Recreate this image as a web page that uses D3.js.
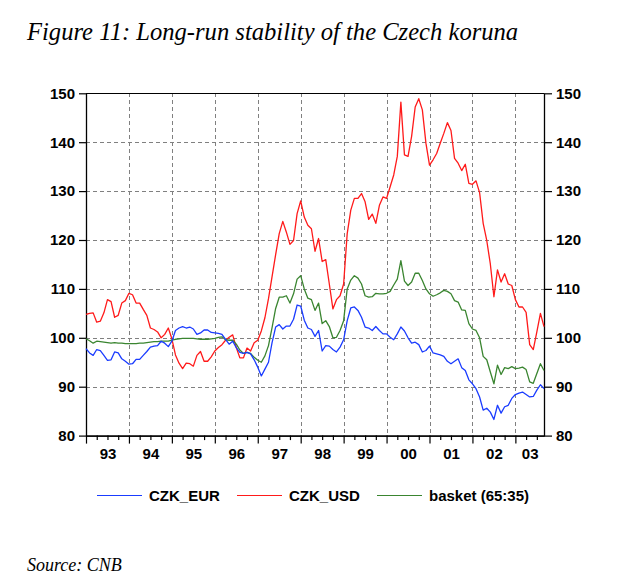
<!DOCTYPE html>
<html>
<head>
<meta charset="utf-8">
<script src="https://cdn.jsdelivr.net/npm/d3@7"></script>
<style>
  html, body { margin: 0; padding: 0; background: #fff; }
  svg { display: block; }
</style>
</head>
<body>
<svg id="chart" width="619" height="586"></svg>
<script>
// ---------- data (monthly, Jan 1993 .. Sep 2003) ----------
const startYear = 1993;
const yearLabels = ["93","94","95","96","97","98","99","00","01","02","03"];
const yTicks = [80, 90, 100, 110, 120, 130, 140, 150];

const czkEur = [
  97.8, 96.9, 96.4, 97.6, 97.4, 96.4, 95.4, 95.5, 97.1, 96.9, 95.7, 95.2,
  94.6, 94.7, 95.6, 95.6, 96.4, 97.2, 98.1, 98.3, 98.4, 99.3, 98.9, 98.2,
  99.3, 101.5, 102.0, 102.3, 102.0, 102.2, 101.8, 100.7, 101.0, 101.6, 101.6, 101.1,
  101.0, 100.9, 100.7, 99.7, 98.7, 99.3, 98.0, 97.0, 96.8, 97.0, 96.7, 95.5,
  94.0, 92.2, 93.6, 95.0, 99.0, 102.2, 102.7, 101.8, 102.4, 102.4, 103.8, 106.7,
  106.5, 103.6, 102.0, 101.7, 100.3, 101.5, 97.3, 98.4, 98.3, 97.6, 97.1, 98.1,
  99.6, 103.5, 106.1, 106.3, 105.6, 104.2, 102.2, 102.0, 101.5, 102.3, 101.5, 100.8,
  100.8, 100.1, 99.6, 100.8, 102.2, 101.4, 100.0, 98.9, 99.1, 98.6, 97.1, 97.4,
  98.3, 96.9, 96.7, 96.5, 96.2, 95.2, 94.7, 95.2, 95.7, 93.9, 93.3, 91.4,
  90.6, 89.6, 87.9, 85.2, 85.6, 84.8, 83.3, 86.2, 84.6, 85.9, 86.2, 87.6,
  88.4, 88.7, 88.9, 88.4, 87.9, 88.0, 89.3, 90.4, 89.6
];

const czkUsd = [
  104.8, 105.0, 105.1, 103.2, 103.4, 105.1, 107.8, 107.4, 104.2, 104.6, 107.1, 107.6,
  109.1, 108.8, 107.1, 107.1, 105.8, 104.6, 102.0, 101.7, 101.2, 100.0, 100.7, 102.0,
  99.8, 96.5, 94.8, 93.7, 94.8, 94.7, 94.2, 96.4, 97.2, 95.2, 95.2, 96.1,
  97.3, 98.0, 98.6, 99.5, 100.1, 100.6, 98.0, 95.9, 95.9, 97.9, 97.3, 99.0,
  99.5, 101.4, 104.1, 108.0, 112.5, 117.0, 121.3, 123.8, 121.6, 119.1, 119.9, 125.4,
  128.0, 124.7, 123.0, 122.3, 117.7, 120.3, 115.6, 116.0, 111.0, 105.9, 107.8, 108.6,
  111.0, 121.3, 126.1, 128.5, 128.5, 129.5, 127.8, 124.2, 125.3, 123.4, 127.1, 128.8,
  128.5, 130.9, 133.3, 137.1, 148.2, 137.4, 137.1, 141.2, 147.2, 148.9, 146.6, 139.8,
  135.3, 136.4, 137.7, 139.8, 141.8, 144.0, 142.4, 136.7, 135.7, 134.2, 135.5, 131.6,
  131.4, 132.1, 129.7, 123.4, 119.9, 115.1, 108.4, 113.9, 111.4, 113.1, 111.0, 110.7,
  107.8, 106.3, 106.3, 105.2, 98.6, 97.6, 101.2, 105.0, 102.3
];

const basket = [
  99.8, 99.4, 98.9, 99.3, 99.2, 99.1, 99.0, 98.9, 99.0, 98.9, 98.9, 98.8,
  98.8, 98.8, 98.8, 98.9, 98.9, 99.0, 99.1, 99.2, 99.2, 99.3, 99.3, 99.3,
  99.5, 99.7, 99.8, 99.9, 99.9, 99.9, 99.9, 99.8, 99.7, 99.7, 99.7, 99.8,
  99.9, 100.1, 100.2, 99.6, 99.5, 99.5, 98.7, 97.5, 96.8, 97.0, 96.8, 96.0,
  95.4, 95.0, 96.3, 98.4, 102.1, 106.0, 108.3, 108.3, 108.6, 107.1, 109.0, 112.0,
  112.7, 110.0, 108.1, 107.8, 105.6, 107.1, 102.9, 103.5, 102.3, 100.0, 100.1, 101.5,
  103.5, 110.0, 111.8, 112.7, 112.2, 111.0, 108.6, 108.3, 108.4, 109.1, 109.0, 109.0,
  109.1, 109.5, 110.8, 112.0, 115.8, 111.6, 110.7, 111.4, 113.2, 113.2, 111.7, 110.0,
  109.0, 108.5, 108.8, 109.2, 109.7, 109.5, 109.0, 107.6, 107.3, 105.7, 105.6, 102.9,
  101.8, 101.5, 100.0, 96.2, 95.5, 93.0, 90.6, 94.4, 92.5, 93.9, 93.7, 94.1,
  93.7, 93.8, 94.0, 93.5, 91.0, 90.7, 92.7, 94.7, 93.3
];

const seriesNames = ["CZK_EUR", "CZK_USD", "basket (65:35)"];
const seriesColors = ["#1a3cff", "#ff1a1a", "#3a8530"];
const seriesData = [czkEur, czkUsd, basket];

// ---------- layout ----------
const svg = d3.select("#chart");
const L = 86, R = 544, T = 93.3, B = 435.6;
const nObs = czkEur.length;

const x = d3.scaleLinear().domain([0, nObs - 1]).range([L, R]);
const y = d3.scaleLinear().domain([80, 150]).range([B, T]);

const sansFont = "Arial, 'Liberation Sans', Helvetica, sans-serif";
const serifFont = "'Times New Roman', 'Liberation Serif', 'DejaVu Serif', serif";

// Title
svg.append("text")
  .attr("x", 27).attr("y", 40)
  .attr("font-family", serifFont)
  .attr("font-style", "italic")
  .attr("font-size", 24.6)
  .attr("fill", "#000")
  .text("Figure 11: Long-run stability of the Czech koruna");

// Grid
const yearIdx = d3.range(12, nObs, 12);
const grid = svg.append("g").attr("stroke", "#808080").attr("stroke-width", 1)
  .attr("stroke-dasharray", "4,3").attr("shape-rendering", "crispEdges");
grid.selectAll("line.h").data(yTicks.filter(v => v > 80 && v < 150)).join("line")
  .attr("x1", L).attr("x2", R)
  .attr("y1", d => Math.round(y(d)) + 0.5).attr("y2", d => Math.round(y(d)) + 0.5);
grid.selectAll("line.v").data(yearIdx).join("line")
  .attr("y1", T).attr("y2", B)
  .attr("x1", d => Math.round(x(d)) + 0.5).attr("x2", d => Math.round(x(d)) + 0.5);

// Top border
svg.append("line").attr("x1", L).attr("x2", R)
  .attr("y1", Math.round(T) + 0.5).attr("y2", Math.round(T) + 0.5)
  .attr("stroke", "#000").attr("shape-rendering", "crispEdges");

// Axes
const yLeft = d3.axisLeft(y).tickValues(yTicks).tickSize(7).tickPadding(4).tickSizeOuter(0);
const yRight = d3.axisRight(y).tickValues(yTicks).tickSize(8).tickPadding(4).tickSizeOuter(0);

function styleAxis(g) {
  g.select(".domain").attr("stroke", "#000").attr("stroke-width", 1.3);
  g.selectAll(".tick line").attr("stroke", "#000").attr("stroke-width", 1.2);
  g.selectAll(".tick text").attr("font-family", sansFont).attr("font-size", 15)
    .attr("font-weight", "bold").attr("fill", "#000");
}
svg.append("g").attr("transform", `translate(${L},0)`).call(yLeft).call(styleAxis);
svg.append("g").attr("transform", `translate(${R},0)`).call(yRight).call(styleAxis);

// X axis: quarterly minor ticks, yearly major ticks, labels centred in year
const quarterIdx = d3.range(0, nObs, 3).filter(i => i % 12 !== 0);
const xMinor = d3.axisBottom(x).tickValues(quarterIdx).tickSize(4.5).tickFormat("").tickSizeOuter(0);
const xMajor = d3.axisBottom(x).tickValues(d3.range(0, nObs, 12)).tickSize(8).tickFormat("").tickSizeOuter(0);
svg.append("g").attr("transform", `translate(0,${B})`).call(xMinor).call(styleAxis);
svg.append("g").attr("transform", `translate(0,${B})`).call(xMajor).call(styleAxis);

const labelPos = yearLabels.map((lab, k) => {
  const a = k * 12, b = Math.min(k * 12 + 12, nObs - 1);
  return { lab, pos: (a + b) / 2 };
});
const xLab = d3.axisBottom(x).tickValues(labelPos.map(d => d.pos))
  .tickFormat((d, i) => labelPos[i].lab).tickSize(0).tickPadding(13);
svg.append("g").attr("transform", `translate(0,${B})`).call(xLab).call(styleAxis)
  .select(".domain").remove();

// Lines
const line = d3.line().x((d, i) => x(i)).y(d => y(d));
const plot = svg.append("g");
[1, 2, 0].forEach(k => {
  plot.append("path").datum(seriesData[k])
    .attr("fill", "none")
    .attr("stroke", seriesColors[k])
    .attr("stroke-width", 1.3)
    .attr("stroke-linejoin", "round")
    .attr("d", line);
});

// Legend
const legendX = [97, 237, 377];
const lg = svg.append("g");
seriesNames.forEach((name, k) => {
  lg.append("line").attr("x1", legendX[k]).attr("x2", legendX[k] + 45)
    .attr("y1", 495.5).attr("y2", 495.5)
    .attr("stroke", seriesColors[k]).attr("stroke-width", 1.2);
  lg.append("text").attr("x", legendX[k] + 52).attr("y", 501)
    .attr("font-family", sansFont).attr("font-size", 15).attr("font-weight", "bold")
    .attr("fill", "#000").text(name);
});

// Source
svg.append("text")
  .attr("x", 27).attr("y", 571)
  .attr("font-family", serifFont)
  .attr("font-style", "italic")
  .attr("font-size", 18)
  .attr("fill", "#000")
  .text("Source: CNB");
</script>
</body>
</html>
